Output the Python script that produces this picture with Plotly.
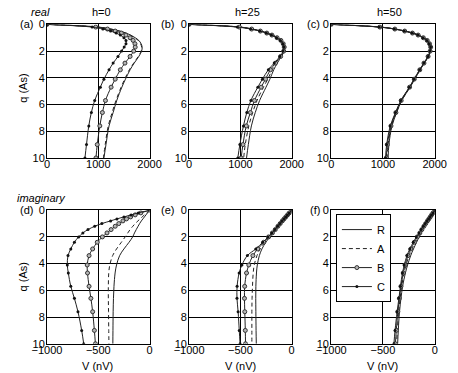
import plotly.graph_objects as go

W, H = 458, 373

# depth grid (q, As)
Q = [0, 0.2, 0.35, 0.5, 0.65, 0.8, 1.0, 1.2, 1.45, 1.7, 2.0, 2.4, 2.9, 3.4, 4.1, 4.7, 5.7, 6.6, 7.6, 9.0, 10]

# real part, h=0
R_a = [0, 1000, 1250, 1420, 1540, 1630, 1720, 1790, 1835, 1855, 1845, 1790, 1700, 1620, 1530, 1460, 1360, 1290, 1210, 1150, 1110]
A_a = [0, 990, 1240, 1410, 1530, 1620, 1710, 1780, 1825, 1845, 1835, 1780, 1690, 1605, 1515, 1445, 1345, 1270, 1195, 1135, 1100]
B_a = [0, 950, 1180, 1330, 1450, 1540, 1620, 1680, 1715, 1720, 1690, 1620, 1520, 1430, 1330, 1250, 1140, 1080, 1030, 980, 955]
C_a = [0, 880, 1090, 1240, 1350, 1430, 1500, 1540, 1540, 1505, 1455, 1385, 1290, 1210, 1110, 1040, 930, 865, 815, 770, 740]
# real part, h=25
R_b = [0, 1000, 1240, 1410, 1530, 1630, 1730, 1800, 1845, 1865, 1855, 1800, 1720, 1650, 1575, 1500, 1375, 1290, 1215, 1155, 1120]
A_b = [0, 990, 1230, 1400, 1520, 1620, 1720, 1795, 1840, 1860, 1850, 1795, 1705, 1620, 1535, 1450, 1325, 1240, 1165, 1095, 1065]
B_b = [0, 980, 1220, 1390, 1515, 1615, 1715, 1790, 1835, 1855, 1845, 1785, 1685, 1585, 1490, 1405, 1275, 1195, 1115, 1050, 1015]
C_b = [0, 940, 1200, 1380, 1505, 1605, 1705, 1780, 1830, 1850, 1835, 1770, 1660, 1545, 1430, 1340, 1205, 1125, 1060, 990, 950]
# real part, h=50
R_c = [0, 950, 1240, 1430, 1580, 1690, 1790, 1865, 1910, 1930, 1920, 1880, 1800, 1720, 1615, 1525, 1365, 1265, 1175, 1115, 1100]
A_c = [0, 950, 1235, 1425, 1575, 1685, 1785, 1860, 1905, 1925, 1915, 1875, 1795, 1715, 1610, 1520, 1360, 1258, 1165, 1100, 1080]
B_c = [0, 940, 1230, 1420, 1570, 1680, 1780, 1855, 1900, 1922, 1912, 1872, 1792, 1712, 1605, 1515, 1352, 1250, 1155, 1085, 1065]
C_c = [0, 925, 1220, 1410, 1565, 1675, 1775, 1850, 1895, 1920, 1910, 1870, 1790, 1708, 1600, 1510, 1345, 1242, 1142, 1072, 1050]
# imaginary part, h=0
R_d = [0, -20, -35, -50, -65, -80, -97, -112, -130, -147, -165, -200, -250, -292, -322, -336, -347, -352, -355, -357, -358]
A_d = [0, -28, -50, -72, -93, -113, -140, -163, -190, -212, -238, -275, -322, -360, -388, -398, -402, -402, -400, -398, -396]
B_d = [0, -85, -140, -185, -225, -260, -300, -335, -375, -415, -460, -510, -555, -590, -608, -605, -590, -572, -555, -538, -528]
C_d = [0, -110, -180, -250, -318, -380, -465, -535, -600, -650, -692, -733, -768, -795, -802, -792, -768, -733, -698, -662, -642]
# imaginary part, h=25
R_e = [0, -22, -38, -55, -72, -88, -108, -128, -152, -178, -212, -252, -290, -315, -335, -343, -349, -350, -349, -347, -345]
A_e = [0, -22, -39, -56, -73, -90, -110, -131, -156, -183, -218, -262, -308, -338, -365, -375, -382, -386, -388, -388, -388]
B_e = [0, -23, -40, -57, -74, -91, -112, -134, -160, -188, -225, -272, -330, -378, -418, -440, -458, -460, -457, -452, -450]
C_e = [0, -23, -41, -58, -75, -93, -114, -137, -163, -192, -230, -282, -350, -432, -485, -512, -532, -533, -522, -511, -503]
# imaginary part, h=50
R_f = [0, -15, -28, -40, -52, -64, -80, -95, -113, -130, -150, -175, -205, -232, -262, -283, -310, -326, -340, -352, -358]
A_f = [0, -15, -28, -41, -54, -67, -84, -100, -119, -137, -160, -187, -219, -247, -277, -296, -319, -334, -348, -361, -368]
B_f = [0, -16, -30, -43, -56, -70, -87, -104, -124, -143, -168, -197, -230, -258, -286, -304, -326, -341, -356, -371, -380]
C_f = [0, -16, -31, -45, -59, -73, -91, -109, -130, -150, -177, -207, -240, -268, -294, -311, -331, -346, -363, -383, -394]

PANELS = [
    ("(a)", R_a, A_a, B_a, C_a),
    ("(b)", R_b, A_b, B_b, C_b),
    ("(c)", R_c, A_c, B_c, C_c),
    ("(d)", R_d, A_d, B_d, C_d),
    ("(e)", R_e, A_e, B_e, C_e),
    ("(f)", R_f, A_f, B_f, C_f),
]
SERIES_NAMES = ["R", "A", "B", "C"]
X_TICKS_REAL = [0, 1000, 2000]
X_TICKS_IMAG = [-1000, -500, 0]
Y_TICKS = [0, 2, 4, 6, 8, 10]
COL_TITLES = ["h=0", "h=25", "h=50"]

FONT = "Liberation Sans, Arial, sans-serif"
LC = "#222"

# panel pixel boxes (x0, x1) per column; (y0, y1) per row (from top)
COLS_PX = [(34, 143), (185, 294), (336, 446)]
ROWS_PX = [(19, 157), (211, 349)]

fig = go.Figure()
layout = dict(
    width=W, height=H, margin=dict(l=0, r=0, t=0, b=0),
    paper_bgcolor="white", plot_bgcolor="white",
    font=dict(family=FONT, size=11, color="black"),
    showlegend=True,
)

styles = {
    "R": dict(line=dict(color=LC, width=1), mode="lines"),
    "A": dict(line=dict(color=LC, width=1, dash="4px,3px"), mode="lines"),
    "B": dict(line=dict(color=LC, width=1), mode="lines+markers",
              marker=dict(symbol="circle", size=4, color="#b5b5b5", line=dict(color="#333", width=1))),
    "C": dict(line=dict(color=LC, width=1), mode="lines+markers",
              marker=dict(symbol="circle", size=3, color="#111")),
}

annotations = []
for i, (lab, R, A, B, C) in enumerate(PANELS):
    row, col = divmod(i, 3)
    k = "" if i == 0 else str(i + 1)
    xa, ya = "x" + k, "y" + k
    for name, vals in zip(SERIES_NAMES, [R, A, B, C]):
        st = styles[name]
        fig.add_trace(go.Scatter(
            x=vals, y=Q, xaxis=xa, yaxis=ya, name=name,
            showlegend=(i == 5), legendrank={"R": 1, "A": 2, "B": 3, "C": 4}[name],
            line_shape="spline", cliponaxis=True,
            **st))
    x0, x1 = COLS_PX[col]
    y0, y1 = ROWS_PX[row]
    layout["xaxis" + k] = dict(
        domain=[x0 / W, x1 / W], anchor=ya,
        range=[0, 2000] if row == 0 else [-1000, 0],
        tickvals=X_TICKS_REAL if row == 0 else X_TICKS_IMAG,
        showline=True, mirror=True, linecolor="black", linewidth=1,
        showgrid=True, gridcolor="black", gridwidth=1, zeroline=False,
        ticks="", ticklabelstandoff=-4, tickfont=dict(size=11, color="black"),
    )
    layout["yaxis" + k] = dict(
        domain=[1 - y1 / H, 1 - y0 / H], anchor=xa,
        range=[10, 0], tickvals=Y_TICKS,
        showline=True, mirror=True, linecolor="black", linewidth=1,
        showgrid=True, gridcolor="black", gridwidth=1, zeroline=False,
        ticks="", ticklabelstandoff=-1, tickfont=dict(size=11, color="black"),
    )
    # panel label
    lab_x = {0: 21, 1: 171, 2: 326}[col]
    annotations.append(dict(text=lab, x=lab_x / W, y=1 - y0 / H, xref="paper", yref="paper",
                            xanchor="right", yanchor="middle", showarrow=False,
                            font=dict(size=11, color="black")))

# column titles
for cx, t in zip([92, 247, 398], COL_TITLES):
    annotations.append(dict(text=t, x=cx / W, y=1 - 6 / H, xref="paper", yref="paper",
                            xanchor="center", yanchor="middle", showarrow=False,
                            font=dict(size=11, color="black")))
annotations.append(dict(text="<i>real</i>", x=27 / W, y=1 - 6 / H, xref="paper", yref="paper",
                        xanchor="center", yanchor="middle", showarrow=False,
                        font=dict(size=11, color="black")))
annotations.append(dict(text="<i>imaginary</i>", x=0, y=1 - 198 / H, xref="paper", yref="paper",
                        xanchor="left", yanchor="middle", showarrow=False,
                        font=dict(size=11, color="black")))
for cy in [85, 280]:
    annotations.append(dict(text="q (As)", x=9 / W, y=1 - cy / H, xref="paper", yref="paper",
                            xanchor="center", yanchor="middle", showarrow=False, textangle=-90,
                            font=dict(size=11, color="black")))
for cx in [88, 240, 391]:
    annotations.append(dict(text="V (nV)", x=cx / W, y=1 - 364 / H, xref="paper", yref="paper",
                            xanchor="center", yanchor="top", showarrow=False,
                            font=dict(size=11, color="black")))

layout["annotations"] = annotations
layout["legend"] = dict(
    x=341 / W, y=1 - 215 / H, xanchor="left", yanchor="top",
    bgcolor="white", bordercolor="black", borderwidth=1,
    font=dict(size=11, color="black"), tracegroupgap=0, itemwidth=30,
)
fig.update_layout(**layout)
fig.write_html("out.html")
